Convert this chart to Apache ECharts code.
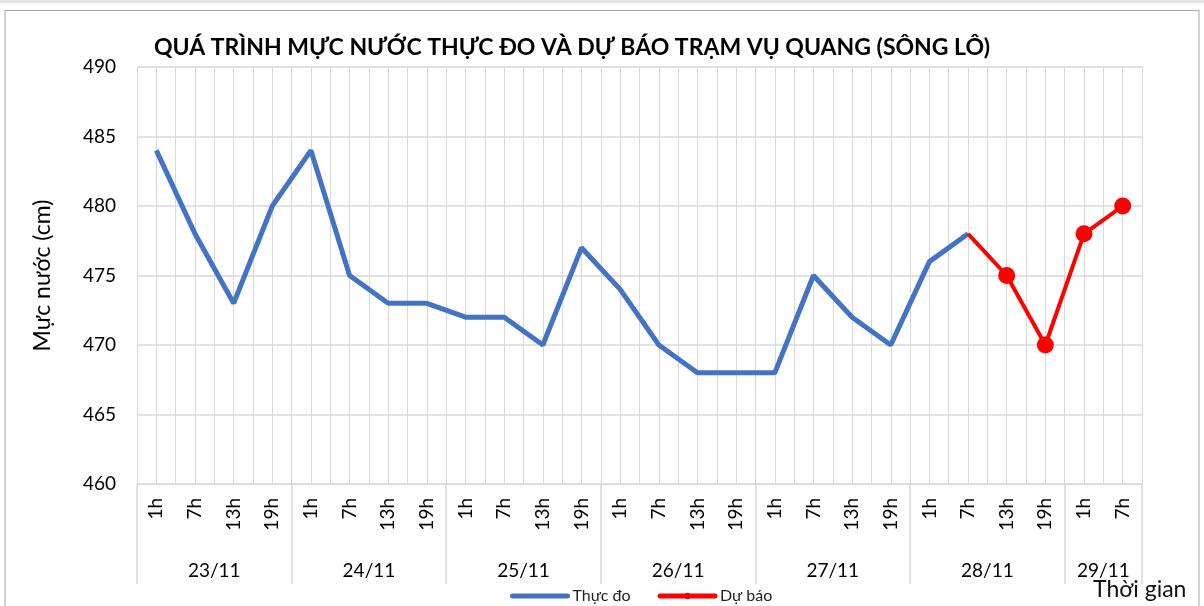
<!DOCTYPE html>
<html>
<head>
<meta charset="utf-8">
<script src="https://cdn.jsdelivr.net/npm/echarts@6/dist/echarts.min.js"></script>
<style>
  html, body { margin: 0; padding: 0; background: #fff; }
  #main { width: 1204px; height: 606px; }
</style>
</head>
<body>
<div id="main"></div>
<script>
// giờ đo trong ngày, và các ngày (số mốc giờ của mỗi ngày)
const hours = ['1h', '7h', '13h', '19h', '1h', '7h', '13h', '19h', '1h', '7h', '13h', '19h',
    '1h', '7h', '13h', '19h', '1h', '7h', '13h', '19h', '1h', '7h', '13h', '19h', '1h', '7h'];
const days = ['23/11', '24/11', '25/11', '26/11', '27/11', '28/11', '29/11'];
const dayCounts = [4, 4, 4, 4, 4, 4, 2];

// mực nước thực đo (cm)
const thucDo = [484, 478, 473, 480, 484, 475, 473, 473, 472, 472, 470, 477,
    474, 470, 468, 468, 468, 475, 472, 470, 476, 478];
// dự báo, bắt đầu nối từ điểm đo cuối cùng (28/11 7h)
const duBao = [null, null, null, null, null, null, null, null, null, null, null, null,
    null, null, null, null, null, null, null, null, null, 478, 475, 470, 478, 480];

const yTicks = [460, 465, 470, 475, 480, 485, 490];

const FONT = 'Lato';
const GRID_COLOR = '#d9d9d9';

// ranh giới & tâm của từng nhóm ngày trên trục
const dayEdges = [0];
const dayCenters = [];
dayCounts.forEach(function (n) {
    const start = dayEdges[dayEdges.length - 1];
    dayCenters.push(start + n / 2);
    dayEdges.push(start + n);
});
const firstForecast = duBao.findIndex(v => v !== null);

var chart = echarts.init(document.getElementById('main'));
var option = {
    animation: false,
    backgroundColor: '#fff',
    textStyle: { fontFamily: FONT },
    title: {
        text: 'QUÁ TRÌNH MỰC NƯỚC THỰC ĐO VÀ DỰ BÁO TRẠM VỤ QUANG (SÔNG LÔ)',
        left: 149, top: 31,
        textStyle: { fontFamily: FONT, fontSize: 23, fontWeight: 'bold', color: '#000' }
    },
    legend: {
        left: 505, top: 583,
        itemWidth: 55, itemHeight: 8, itemGap: 27,
        lineStyle: { width: 5, cap: 'round' },
        textStyle: { fontFamily: FONT, fontSize: 16, color: '#222' },
        data: [
            { name: 'Thực đo', itemStyle: { opacity: 0 } },
            { name: 'Dự báo' }
        ]
    },
    grid: { left: 137, right: 62, top: 67, bottom: 122 },
    xAxis: [
        {
            type: 'category',
            data: hours,
            boundaryGap: true,
            axisLine: { show: true, lineStyle: { color: GRID_COLOR, width: 1 } },
            axisTick: { show: false },
            axisLabel: { rotate: 90, margin: 14, fontSize: 19, color: '#000', fontFamily: FONT, interval: 0 },
            splitLine: { show: false }
        },
        {
            // lưới dọc mỗi nửa mốc giờ
            type: 'value',
            min: 0, max: hours.length * 2, interval: 1,
            axisLine: { show: false }, axisTick: { show: false }, axisLabel: { show: false },
            splitLine: { show: true, lineStyle: { color: GRID_COLOR, width: 1 } }
        },
        {
            // nhãn ngày
            type: 'value',
            position: 'bottom',
            min: 0, max: hours.length,
            axisLine: { show: false },
            axisTick: { show: true, inside: false, length: 100, customValues: dayEdges,
                lineStyle: { color: GRID_COLOR, width: 1.5 } },
            axisLabel: {
                show: true, customValues: dayCenters, margin: 77, fontSize: 19, color: '#000', fontFamily: FONT,
                formatter: function (v) {
                    const i = dayCenters.indexOf(v);
                    return i >= 0 ? days[i] : '';
                }
            },
            splitLine: { show: false }
        }
    ],
    yAxis: {
        type: 'value',
        min: yTicks[0], max: yTicks[yTicks.length - 1], interval: 5,
        name: 'Mực nước (cm)',
        nameLocation: 'middle',
        nameGap: 83,
        nameTextStyle: { fontFamily: FONT, fontSize: 23, color: '#000' },
        axisLine: { show: true, lineStyle: { color: GRID_COLOR } },
        axisTick: { show: false },
        axisLabel: { fontSize: 19, color: '#000', margin: 21, fontFamily: FONT },
        splitLine: { lineStyle: { color: GRID_COLOR, width: 1.5 } }
    },
    graphic: [
        { type: 'rect', shape: { x: 0, y: 0, width: 1204, height: 3 }, style: { fill: '#e4e4e4' } },
        { type: 'rect', shape: { x: 5, y: 10.5, width: 1194, height: 620 },
          style: { fill: 'none', stroke: '#a6a6a6', lineWidth: 1 } },
        { type: 'text', left: 1093, top: 578,
          style: { text: 'Thời gian', font: '23px ' + FONT, fill: '#111' } }
    ],
    series: [
        {
            name: 'Thực đo',
            type: 'line',
            xAxisIndex: 0,
            data: thucDo,
            symbol: 'none',
            lineStyle: { color: '#4472C4', width: 5 },
            itemStyle: { color: '#4472C4' },
            z: 3
        },
        {
            name: 'Dự báo',
            type: 'line',
            xAxisIndex: 0,
            data: duBao,
            symbol: 'circle',
            symbolSize: function (v, p) { return p.dataIndex === firstForecast ? 0 : 17; },
            lineStyle: { color: '#FF0000', width: 4 },
            itemStyle: { color: '#FF0000' },
            z: 4
        }
    ]
};
chart.setOption(option);
</script>
</body>
</html>
